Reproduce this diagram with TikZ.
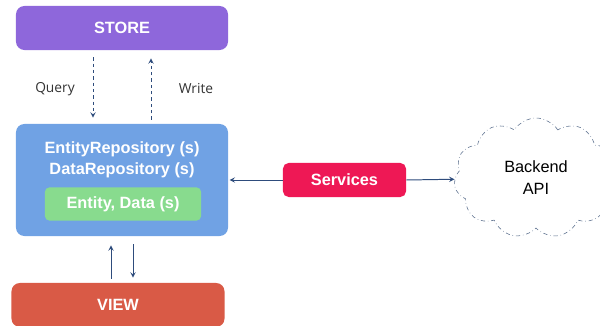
\documentclass[tikz,border=0pt]{standalone}
\usepackage{fontspec}
\setmainfont{Liberation Sans}
\newfontfamily\labelfont{Open Sans}
\usepackage{tikz}
\usetikzlibrary{arrows,calc,shapes.symbols}
\usetikzlibrary{positioning}
\definecolor{storepurple}{HTML}{8E67DB}
\definecolor{repoblue}{HTML}{70A2E4}
\definecolor{modelgreen}{HTML}{88DB8E}
\definecolor{viewred}{HTML}{D95A46}
\definecolor{servicered}{HTML}{EE1855}
\definecolor{linkblue}{HTML}{2E4C7C}
\definecolor{cloudgray}{HTML}{5A6E8C}

\begin{document}
\begin{tikzpicture}[x=0.025cm,y=-0.025cm,
    box/.style={rounded corners=6pt, text=white, inner sep=0pt,
        font=\bfseries\fontsize{11.6}{15}\selectfont},
    link/.style={color=linkblue, -stealth, line width=0.7pt},
    tag/.style={font=\labelfont\fontsize{9.8}{12}\selectfont, text=black!80}]
    \useasboundingbox (0,0) rectangle (600,326);
    % boxes
    \node[box, fill=storepurple, minimum width=5.3cm, minimum height=1.1cm] (store) at (122,28) {STORE};
    \node[box, fill=repoblue, minimum width=5.3cm, minimum height=2.8cm] (repo) at (122,180) {};
    \node[box, align=center] (repotext) at (122,160) {EntityRepository (s)\\DataRepository (s)};
    \node[box, fill=modelgreen, rounded corners=3pt, minimum width=3.9cm, minimum height=0.825cm] (model) at (123,204) {Entity, Data (s)};
    \node[box, fill=viewred, minimum width=5.325cm, minimum height=1.1cm] (view) at (118,305) {VIEW};
    \node[box, fill=servicered, rounded corners=4pt, minimum width=3.075cm, minimum height=0.85cm] (services) at (344.5,180) {Services};
    \node[cloud, cloud puffs=11, cloud puff arc=115, draw=cloudgray, dash dot, thin,
        minimum width=4.1cm, minimum height=3cm, align=center,
        font=\fontsize{11.6}{15.6}\selectfont] (backend) at (536,178) {Backend\\API};
    % labels
    \node[tag] (query) at (55,89) {Query};
    \node[tag] (write) at (196,89) {Write};
    % store <-> repo
    \coordinate (qx) at (93,0);
    \coordinate (wx) at (151,0);
    \draw[link, dash pattern=on 2.5pt off 2pt, shorten <=0.175cm, shorten >=0.15cm] (store.south -| qx) -- (repo.north -| qx);
    \draw[link, dash pattern=on 2.5pt off 2pt, shorten <=0.1cm, shorten >=0.2cm] (repo.north -| wx) -- (store.south -| wx);
    % repo <-> view
    \coordinate (ux) at (111,0);
    \coordinate (dx) at (133,0);
    \draw[link, shorten <=0.1cm, shorten >=0.225cm] (view.north -| ux) -- (repo.south -| ux);
    \draw[link, shorten <=0.2cm, shorten >=0.125cm] (repo.south -| dx) -- (view.north -| dx);
    % services
    \draw[link] (services.west) -- ([xshift=0.03cm]repo.east);
    \draw[link] (services.east) -- (backend);
\end{tikzpicture}
\end{document}
